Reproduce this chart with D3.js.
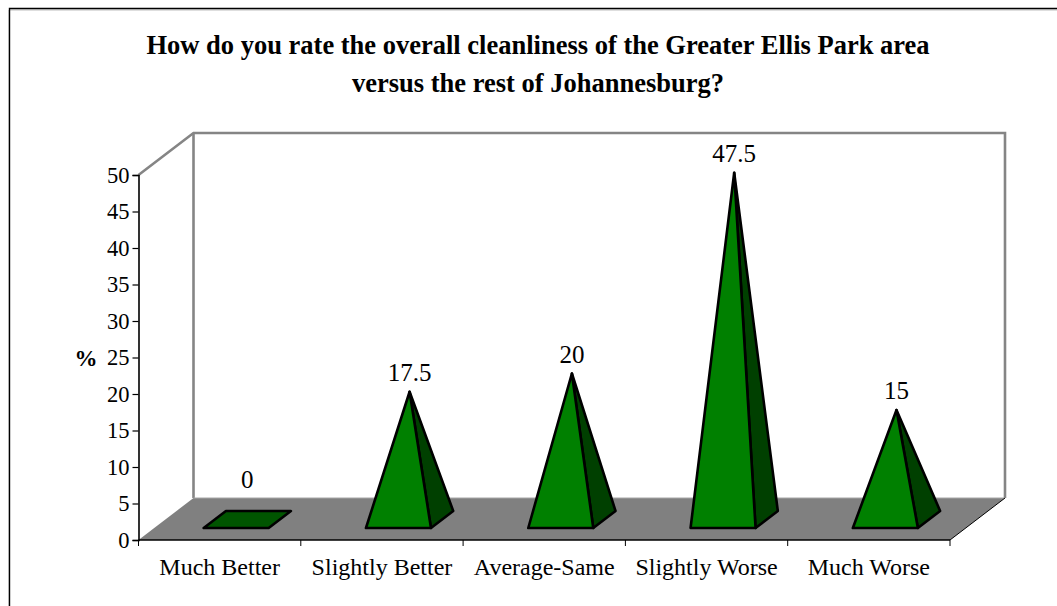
<!DOCTYPE html>
<html><head><meta charset="utf-8">
<script src="https://cdn.jsdelivr.net/npm/d3@7/dist/d3.min.js"></script>
<style>html,body{margin:0;padding:0;background:#fff}svg{display:block}text{font-family:"Liberation Serif",serif;fill:#000}</style>
</head><body><svg id="c" width="1057" height="606"></svg>
<script>
const categories=["Much Better","Slightly Better","Average-Same","Slightly Worse","Much Worse"];
const values=[0,17.5,20,47.5,15];
const yTicks=[0,5,10,15,20,25,30,35,40,45,50];
const titleLines=["How do you rate the overall cleanliness of the Greater Ellis Park area","versus the rest of Johannesburg?"];

const svg=d3.select("#c");
const W=1057,H=606;
svg.append("path").attr("d",`M9,${H}V9H${W}`).attr("fill","none").attr("stroke","#bdbdbd").attr("stroke-width",1).attr("transform","translate(0,1)");
svg.append("path").attr("d",`M9.5,${H}V8.5H${W}`).attr("fill","none").attr("stroke","#000").attr("stroke-width",1.4);

const x=d3.scaleBand().domain(categories).range([138.5,950]);
const y=d3.scaleLinear().domain([0,50]).range([540,175]);
const depth={dx:55,dy:-42};
const proj=(px,py,d)=>[px+depth.dx*d,py+depth.dy*d];
const x0=x.range()[0],x1=x.range()[1],yb=y(0),yt=y(50);
const poly=p=>"M"+p.map(q=>q.join(",")).join("L")+"Z";

// floor
svg.append("path").attr("d",poly([[x0,yb],proj(x0,yb,1),proj(x1,yb,1),[x1,yb]])).attr("fill","#808080");
// walls
const wall=svg.append("g").attr("fill","none").attr("stroke","#858585").attr("stroke-width",2.6);
wall.append("path").attr("d","M"+[[x0,yt],proj(x0,yt,1),proj(x1,yt,1),proj(x1,yb,1)].join("L"));
wall.append("path").attr("d","M"+[proj(x0,yt,1),proj(x0,yb,1)].join("L"));
wall.append("path").attr("d","M"+[proj(x0,yb,1),proj(x1,yb,1)].join("L")).attr("stroke","#a6a6a6").attr("stroke-width",1);
wall.append("path").attr("d","M"+[[x1,yb],proj(x1,yb,1)].join("L")).attr("stroke","#000").attr("stroke-width",1);

// axes
const ax=svg.append("g").attr("transform",`translate(${x0},0)`)
  .call(d3.axisLeft(y).tickValues(yTicks).tickSize(6).tickPadding(3));
ax.select(".domain").attr("stroke","#000").attr("stroke-width",1.6);
ax.selectAll("line").attr("stroke","#000").attr("stroke-width",1.2);
ax.selectAll("text").style("font-size","22.5px").style("font-family",'"Liberation Serif",serif').attr("fill","#000");

const bx=svg.append("g").attr("transform",`translate(0,${yb})`)
  .call(d3.axisBottom(x).tickSize(0).tickPadding(18));
bx.select(".domain").attr("stroke","#000").attr("stroke-width",1.6).attr("d",`M${x0},0H${x1}`);
bx.selectAll("text").style("font-size","24px").style("font-family",'"Liberation Serif",serif').attr("fill","#000");
const bandEdges=[...categories.map(c=>x(c)),x1];
svg.append("g").selectAll("line").data(bandEdges).join("line")
  .attr("x1",d=>d).attr("x2",d=>d).attr("y1",yb).attr("y2",yb+6)
  .attr("stroke","#000").attr("stroke-width",1);

// pyramids
const dFront=12/42, dBack=29/42, baseW=65;
const g=svg.append("g").attr("stroke","#000").attr("stroke-width",2.6).attr("stroke-linejoin","round");
categories.forEach((c,i)=>{
  const v=values[i];
  const cx=x(c)+x.bandwidth()/2+0.8;
  const fl=proj(cx-baseW/2,yb,dFront), fr=proj(cx+baseW/2,yb,dFront);
  const bl=proj(cx-baseW/2,yb,dBack), br=proj(cx+baseW/2,yb,dBack);
  const apex=proj(cx,y(v),(dFront+dBack)/2);
  if(v===0){
    g.append("path").attr("d",poly([fl,fr,br,bl])).attr("fill","#005500");
  }else{
    g.append("path").attr("d",poly([fr,br,apex])).attr("fill","#004000");
    g.append("path").attr("d",poly([fl,fr,apex])).attr("fill","#008000");
  }
  svg.append("text").attr("x",apex[0]).attr("y",apex[1]-(v===0?32:11))
    .attr("text-anchor","middle").style("font-size","25px").text(v);
});

// titles
svg.append("g").selectAll("text").data(titleLines).join("text")
  .attr("x",538).attr("y",(d,i)=>53.5+i*38).attr("text-anchor","middle")
  .style("font-size","26.5px").style("font-weight","bold").text(d=>d);
svg.append("text").attr("x",86).attr("y",366).attr("text-anchor","middle")
  .style("font-size","23px").style("font-weight","bold").text("%");
</script></body></html>
